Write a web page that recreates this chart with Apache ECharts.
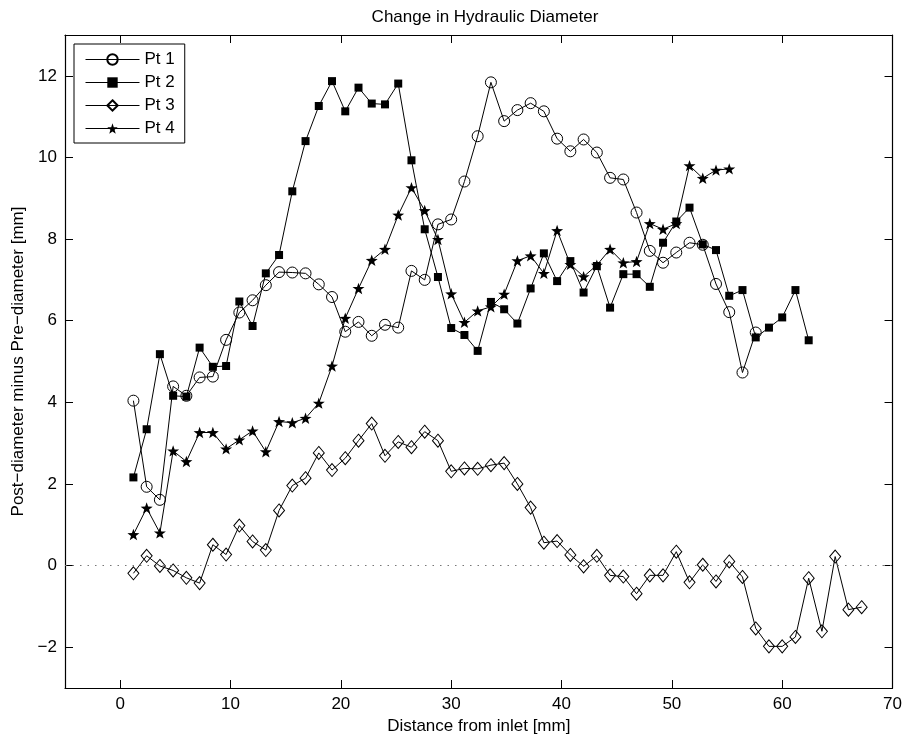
<!DOCTYPE html>
<html>
<head>
<meta charset="utf-8">
<script src="https://cdn.jsdelivr.net/npm/echarts@6/dist/echarts.min.js"></script>
<style>html,body{margin:0;padding:0;background:#fff}#c{width:905px;height:740px}</style>
</head>
<body>
<div id="c"></div>
<script>
// Distance from inlet [mm]
const distance = [1.2, 2.4, 3.6, 4.8, 6.0, 7.2, 8.4, 9.6, 10.8, 12.0, 13.2, 14.4, 15.6, 16.8, 18.0, 19.2, 20.4, 21.6, 22.8, 24.0, 25.2, 26.4, 27.6, 28.8, 30.0, 31.2, 32.4, 33.6, 34.8, 36.0, 37.2, 38.4, 39.6, 40.8, 42.0, 43.2, 44.4, 45.6, 46.8, 48.0, 49.2, 50.4, 51.6, 52.8, 54.0, 55.2, 56.4, 57.6, 58.8, 60.0, 61.2, 62.4, 63.6, 64.8, 66.0, 67.2];

const pt1 = [4.04, 1.93, 1.61, 4.39, 4.16, 4.61, 4.63, 5.53, 6.20, 6.50, 6.87, 7.19, 7.18, 7.16, 6.89, 6.58, 5.73, 5.97, 5.63, 5.90, 5.83, 7.22, 7.00, 8.36, 8.48, 9.41, 10.52, 11.84, 10.89, 11.16, 11.33, 11.13, 10.46, 10.15, 10.44, 10.12, 9.50, 9.46, 8.65, 7.71, 7.42, 7.67, 7.91, 7.86, 6.90, 6.21, 4.73, 5.71];
const pt2 = [2.16, 3.34, 5.18, 4.16, 4.14, 5.34, 4.87, 4.89, 6.47, 5.87, 7.16, 7.61, 9.17, 10.40, 11.26, 11.87, 11.13, 11.71, 11.32, 11.30, 11.81, 9.93, 8.24, 7.07, 5.82, 5.65, 5.26, 6.46, 6.28, 5.93, 6.79, 7.65, 6.97, 7.46, 6.69, 7.34, 6.32, 7.14, 7.14, 6.83, 7.91, 8.43, 8.77, 7.87, 7.73, 6.61, 6.75, 5.59, 5.83, 6.08, 6.75, 5.52];
const pt3 = [-0.19, 0.24, -0.01, -0.12, -0.30, -0.43, 0.51, 0.27, 0.98, 0.59, 0.38, 1.35, 1.96, 2.14, 2.76, 2.34, 2.63, 3.06, 3.48, 2.69, 3.03, 2.90, 3.28, 3.06, 2.31, 2.38, 2.37, 2.46, 2.51, 2.00, 1.42, 0.56, 0.60, 0.26, -0.02, 0.24, -0.24, -0.27, -0.69, -0.24, -0.24, 0.34, -0.41, 0.02, -0.39, 0.10, -0.28, -1.54, -1.98, -1.98, -1.75, -0.31, -1.61, 0.22, -1.08, -1.02];
const pt4 = [0.76, 1.41, 0.80, 2.81, 2.55, 3.26, 3.26, 2.86, 3.08, 3.30, 2.79, 3.53, 3.50, 3.61, 3.98, 4.89, 6.06, 6.79, 7.48, 7.75, 8.59, 9.26, 8.70, 7.99, 6.66, 5.96, 6.24, 6.34, 6.65, 7.47, 7.59, 7.16, 8.21, 7.38, 7.08, 7.36, 7.75, 7.42, 7.45, 8.38, 8.24, 8.38, 9.80, 9.49, 9.69, 9.72];

const seriesNames = ['Pt 1', 'Pt 2', 'Pt 3', 'Pt 4'];
const xTicks = [0, 10, 20, 30, 40, 50, 60, 70];
const yTicks = [-2, 0, 2, 4, 6, 8, 10, 12];

const FONT = 'Liberation Sans, Arial, Helvetica, sans-serif';
const STAR = 'path://M0,-10L2.35,-3.24L9.51,-3.09L3.8,1.24L5.88,8.09L0,4.2L-5.88,8.09L-3.8,1.24L-9.51,-3.09L-2.35,-3.24Z';

function pairs(vals) { return vals.map((v, i) => [distance[i], v]); }

const open = { color: 'rgba(0,0,0,0)', borderColor: '#000', borderWidth: 1 };
const filled = { color: '#000', borderColor: '#000', borderWidth: 0 };

function mkSeries(name, vals, symbol, size, style) {
  return {
    name: name, type: 'line', data: pairs(vals),
    symbol: symbol, symbolSize: size, symbolKeepAspect: true, showAllSymbol: true,
    lineStyle: { color: '#000', width: 1 },
    itemStyle: style,
    emphasis: { disabled: true },
    xAxisIndex: 0, yAxisIndex: 0, z: 3
  };
}

const series = [
  mkSeries(seriesNames[0], pt1, 'circle', 11, open),
  mkSeries(seriesNames[1], pt2, 'rect', 8, filled),
  mkSeries(seriesNames[2], pt3, 'diamond', [11, 13], open),
  mkSeries(seriesNames[3], pt4, STAR, 12, filled)
];
series[0].markLine = {
  silent: true, symbol: ['none', 'none'], label: { show: false },
  lineStyle: { color: '#777', width: 1, type: [1.5, 6] },
  data: [{ yAxis: 0 }], animation: false
};

function xAx(pos, labels) {
  return {
    type: 'value', position: pos, min: -5, max: 70, interval: 5,
    axisLine: { show: true, onZero: false, lineStyle: { color: '#000', width: 1.2 } },
    axisTick: { show: true, inside: true, length: 8, customValues: xTicks, lineStyle: { color: '#000' } },
    axisLabel: { show: labels, customValues: xTicks, color: '#000', fontSize: 17, fontFamily: FONT, margin: 8 },
    splitLine: { show: false },
    name: labels ? 'Distance from inlet [mm]' : '', nameLocation: 'middle', nameGap: 30,
    nameTextStyle: { color: '#000', fontSize: 17, fontFamily: FONT }
  };
}
function yAx(pos, labels) {
  return {
    type: 'value', position: pos, min: -3, max: 13, interval: 1,
    axisLine: { show: true, onZero: false, lineStyle: { color: '#000', width: 1.2 } },
    axisTick: { show: true, inside: true, length: 8, customValues: yTicks, lineStyle: { color: '#000' } },
    axisLabel: { show: labels, customValues: yTicks, color: '#000', fontSize: 17, fontFamily: FONT, margin: 8,
      formatter: v => (v < 0 ? '\u2212' + Math.abs(v) : String(v)) },
    splitLine: { show: false },
    name: labels ? 'Post\u2212diameter minus Pre\u2212diameter [mm]' : '', nameLocation: 'middle', nameGap: 36,
    nameTextStyle: { color: '#000', fontSize: 17, fontFamily: FONT }
  };
}

const chart = echarts.init(document.getElementById('c'), null, { renderer: 'canvas' });
chart.setOption({
  animation: false,
  backgroundColor: '#fff',
  title: {
    text: 'Change in Hydraulic Diameter', left: 480, textAlign: 'center', top: 4,
    textStyle: { color: '#000', fontSize: 17, fontWeight: 'normal', fontFamily: FONT }
  },
  grid: { left: 65, right: 10, top: 35, bottom: 51, containLabel: false },
  legend: {
    data: seriesNames, orient: 'vertical', left: 74, top: 44,
    padding: [7, 10, 6, 11], itemGap: 6, itemWidth: 54, itemHeight: 13,
    backgroundColor: '#fff', borderColor: '#000', borderWidth: 1,
    lineStyle: { width: 1 },
    textStyle: { color: '#000', fontSize: 17, fontFamily: FONT, lineHeight: 17 },
    selectedMode: false
  },
  xAxis: [xAx('bottom', true), xAx('top', false)],
  yAxis: [yAx('left', true), yAx('right', false)],
  series: series
});
</script>
</body>
</html>
